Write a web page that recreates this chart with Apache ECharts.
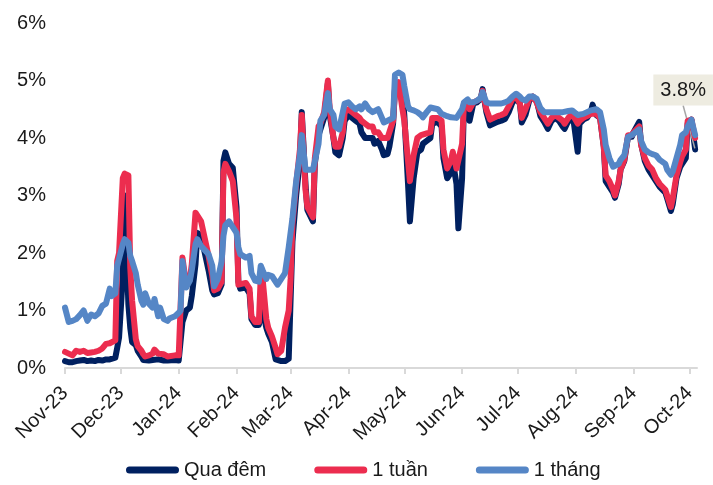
<!DOCTYPE html>
<html>
<head>
<meta charset="utf-8">
<script src="https://cdn.jsdelivr.net/npm/echarts@6/dist/echarts.min.js"></script>
<style>
  html, body { margin: 0; padding: 0; background: #fff; }
  #chart { width: 713px; height: 485px; }
</style>
</head>
<body>
<div id="chart"></div>
<script>
// Interbank rates (%), Nov-2023 to early Oct-2024
var dates = [
  '2023-11-01','2023-11-03','2023-11-05','2023-11-07','2023-11-09','2023-11-11','2023-11-13','2023-11-15','2023-11-17','2023-11-19',
  '2023-11-21','2023-11-23','2023-11-25','2023-11-26','2023-11-28','2023-11-29','2023-11-30','2023-12-02','2023-12-03','2023-12-04',
  '2023-12-05','2023-12-06','2023-12-07','2023-12-09','2023-12-10','2023-12-12','2023-12-13','2023-12-14','2023-12-16','2023-12-18',
  '2023-12-19','2023-12-21','2023-12-22','2023-12-24','2023-12-26','2023-12-27','2023-12-30','2024-01-01','2024-01-02','2024-01-03',
  '2024-01-05','2024-01-07','2024-01-08','2024-01-10','2024-01-11','2024-01-13','2024-01-15','2024-01-17','2024-01-19','2024-01-20',
  '2024-01-22','2024-01-24','2024-01-25','2024-01-26','2024-01-28','2024-01-30','2024-02-01','2024-02-02','2024-02-03','2024-02-06',
  '2024-02-08','2024-02-09','2024-02-11','2024-02-13','2024-02-14','2024-02-15','2024-02-17','2024-02-18','2024-02-20','2024-02-22',
  '2024-02-23','2024-02-25','2024-02-27','2024-02-29','2024-03-01','2024-03-02','2024-03-04','2024-03-06','2024-03-07','2024-03-09',
  '2024-03-10','2024-03-13','2024-03-14','2024-03-16','2024-03-17','2024-03-19','2024-03-21','2024-03-22','2024-03-24','2024-03-25',
  '2024-03-27','2024-03-29','2024-03-30','2024-04-01','2024-04-03','2024-04-05','2024-04-07','2024-04-08','2024-04-10','2024-04-12',
  '2024-04-14','2024-04-15','2024-04-17','2024-04-19','2024-04-20','2024-04-22','2024-04-23','2024-04-25','2024-04-26','2024-04-28',
  '2024-04-30','2024-05-01','2024-05-03','2024-05-04','2024-05-06','2024-05-08','2024-05-10','2024-05-11','2024-05-13','2024-05-15',
  '2024-05-16','2024-05-19','2024-05-21','2024-05-22','2024-05-24','2024-05-26','2024-05-27','2024-05-29','2024-05-30','2024-06-01',
  '2024-06-02','2024-06-04','2024-06-05','2024-06-07','2024-06-09','2024-06-11','2024-06-12','2024-06-14','2024-06-16','2024-06-18',
  '2024-06-20','2024-06-22','2024-06-24','2024-06-26','2024-06-28','2024-06-30','2024-07-02','2024-07-03','2024-07-05','2024-07-07',
  '2024-07-09','2024-07-11','2024-07-13','2024-07-15','2024-07-17','2024-07-19','2024-07-21','2024-07-23','2024-07-25','2024-07-26',
  '2024-07-28','2024-07-30','2024-07-31','2024-08-02','2024-08-03','2024-08-05','2024-08-07','2024-08-09','2024-08-10','2024-08-12',
  '2024-08-14','2024-08-16','2024-08-17','2024-08-19','2024-08-21','2024-08-22','2024-08-24','2024-08-25','2024-08-27','2024-08-29',
  '2024-08-31','2024-09-01','2024-09-04','2024-09-05','2024-09-07','2024-09-09','2024-09-11','2024-09-13','2024-09-15','2024-09-18',
  '2024-09-19','2024-09-21','2024-09-22','2024-09-24','2024-09-26','2024-09-27','2024-09-29','2024-09-30','2024-10-02','2024-10-04'
];

// Qua đêm (overnight)
var overnight = [
  0.12,0.10,0.10,0.12,0.13,0.14,0.12,0.13,0.12,0.14,
  0.13,0.15,0.15,0.16,0.18,0.35,0.53,1.60,3.00,2.00,
  1.10,0.70,0.45,0.40,0.30,0.20,0.14,0.12,0.13,0.14,
  0.13,0.15,0.14,0.13,0.13,0.13,0.14,0.13,0.15,0.80,
  1.00,1.05,1.25,1.80,2.35,2.30,2.00,1.70,1.35,1.28,
  1.30,1.45,3.60,3.75,3.55,3.48,2.80,1.50,1.38,1.40,
  1.30,0.85,0.75,0.75,0.95,1.00,0.70,0.60,0.45,0.15,
  0.12,0.12,0.12,0.16,0.18,2.20,3.00,3.60,4.45,3.20,
  2.75,2.55,3.55,4.05,4.15,4.35,4.95,4.40,4.00,3.75,
  3.70,4.00,4.30,4.40,4.35,4.30,4.25,4.10,4.00,4.00,
  4.00,3.90,3.95,3.80,3.70,3.72,3.85,4.25,4.85,4.90,
  4.80,4.40,3.20,2.55,3.30,3.75,3.80,3.90,3.95,4.00,
  4.25,4.28,4.20,3.65,3.30,3.40,3.60,3.20,2.43,3.30,
  4.60,4.62,4.30,4.60,4.62,4.68,4.85,4.45,4.22,4.25,
  4.28,4.30,4.33,4.45,4.62,4.68,4.60,4.27,4.40,4.65,
  4.72,4.65,4.38,4.28,4.16,4.30,4.35,4.30,4.20,4.16,
  4.30,4.33,4.25,3.76,4.25,4.32,4.35,4.45,4.58,4.40,
  4.35,3.85,3.25,3.15,3.05,2.96,3.20,3.45,3.60,4.02,
  4.02,4.10,4.28,3.90,3.60,3.45,3.35,3.25,3.15,3.05,
  2.95,2.73,2.85,3.30,3.50,3.55,3.65,4.25,4.32,3.80
];

// 1 tuần (one week)
var oneWeek = [
  0.28,0.25,0.22,0.30,0.28,0.30,0.26,0.27,0.28,0.30,
  0.34,0.42,0.43,0.46,0.48,1.86,2.00,3.30,3.38,3.38,
  3.35,1.75,1.17,0.50,0.38,0.30,0.24,0.20,0.22,0.25,
  0.32,0.25,0.22,0.24,0.20,0.22,0.22,0.22,0.25,1.92,
  1.45,1.55,1.80,2.70,2.72,2.55,2.25,1.95,1.60,1.35,
  1.38,1.50,3.40,3.55,3.42,3.25,2.60,1.45,1.45,1.48,
  1.38,0.90,0.80,0.80,1.60,1.55,0.85,0.70,0.55,0.35,
  0.24,0.30,0.70,1.00,1.55,2.50,3.20,3.80,4.40,3.10,
  2.80,2.62,3.65,4.20,4.25,4.45,5.00,4.50,4.00,3.85,
  3.85,4.10,4.45,4.50,4.45,4.40,4.35,4.30,4.25,4.20,
  4.20,4.10,4.10,4.00,3.98,4.00,4.02,4.30,4.85,4.97,
  4.50,4.30,3.60,3.25,3.70,4.00,4.05,4.05,4.08,4.10,
  4.35,4.35,4.30,3.80,3.47,3.60,3.76,3.47,3.50,3.90,
  4.60,4.62,4.50,4.62,4.65,4.68,4.82,4.50,4.32,4.35,
  4.38,4.40,4.43,4.55,4.68,4.72,4.60,4.35,4.50,4.68,
  4.72,4.62,4.45,4.35,4.25,4.35,4.40,4.35,4.30,4.25,
  4.35,4.42,4.40,4.25,4.30,4.35,4.38,4.42,4.45,4.42,
  4.35,3.85,3.35,3.25,3.10,3.00,3.25,3.45,3.62,4.05,
  4.05,4.10,4.20,3.88,3.65,3.52,3.45,3.30,3.20,3.10,
  3.00,2.80,2.95,3.35,3.58,3.68,3.80,4.30,4.32,4.00
];

// 1 tháng (one month)
var oneMonth = [
  1.05,0.80,0.82,0.85,0.92,1.00,0.82,0.93,0.90,0.95,
  1.08,1.12,1.38,1.25,1.30,1.78,1.90,2.15,2.24,2.22,
  2.18,1.95,1.86,1.65,1.45,1.17,1.10,1.30,1.12,1.05,
  1.20,0.90,1.05,0.85,0.82,0.86,0.90,0.96,1.00,1.86,
  1.40,1.52,1.70,2.15,2.24,2.12,2.05,1.98,1.78,1.42,
  1.55,1.85,2.30,2.48,2.55,2.45,2.35,2.10,1.98,1.92,
  1.95,1.65,1.52,1.50,1.78,1.70,1.55,1.62,1.60,1.50,
  1.45,1.55,1.65,2.10,2.10,2.60,3.25,3.70,4.05,3.45,
  3.45,3.45,3.48,3.90,4.30,4.40,4.78,4.50,4.40,4.20,
  4.15,4.45,4.60,4.62,4.55,4.50,4.55,4.50,4.60,4.50,
  4.45,4.45,4.50,4.35,4.27,4.30,4.30,4.35,5.10,5.14,
  5.10,4.90,4.55,4.50,4.48,4.45,4.40,4.36,4.45,4.53,
  4.53,4.50,4.42,4.40,4.38,4.36,4.35,4.35,4.36,4.50,
  4.62,4.67,4.62,4.62,4.65,4.70,4.80,4.62,4.60,4.60,
  4.60,4.60,4.62,4.65,4.72,4.77,4.72,4.68,4.65,4.72,
  4.72,4.68,4.52,4.45,4.45,4.45,4.45,4.45,4.45,4.45,
  4.47,4.48,4.45,4.40,4.38,4.42,4.45,4.48,4.50,4.50,
  4.45,4.15,3.88,3.65,3.50,3.47,3.55,3.62,3.70,4.02,
  4.05,4.08,4.15,3.95,3.80,3.75,3.72,3.70,3.62,3.55,
  3.45,3.36,3.42,3.65,3.88,4.05,4.10,4.20,4.32,4.05
];

// Month ticks and their labels
var monthTicks = [
  '2023-11-01','2023-12-01','2024-01-01','2024-02-01','2024-03-01','2024-04-01',
  '2024-05-01','2024-06-01','2024-07-01','2024-08-01','2024-09-01','2024-10-01'
];
var monthLabels = ['Nov-23','Dec-23','Jan-24','Feb-24','Mar-24','Apr-24','May-24','Jun-24','Jul-24','Aug-24','Sep-24','Oct-24'];
var axisEnd = '2024-10-05';

var seriesNames = ['Qua đêm', '1 tuần', '1 tháng'];
var seriesColors = ['#002060', '#EC2D4F', '#5586C6'];

var FONT = '"Liberation Sans", Arial, sans-serif';
function ts(d) { return Date.parse(d + 'T00:00:00Z'); }
var tickTimes = monthTicks.map(ts);
var labelByTime = {};
tickTimes.forEach(function (t, i) { labelByTime[t] = monthLabels[i]; });

function toPairs(values) {
  return values.map(function (v, i) { return [ts(dates[i]), v]; });
}

// Overnight series carries the callout on its latest value
var lastIdx = dates.length - 1;
var overnightData = toPairs(overnight);
overnightData[lastIdx] = {
  value: overnightData[lastIdx],
  symbol: 'circle',
  symbolSize: 2,
  label: {
    show: true,
    position: 'top',
    formatter: function (p) { return p.value[1].toFixed(1) + '%'; },
    fontFamily: FONT,
    fontSize: 20,
    color: '#1a1a1a',
    backgroundColor: '#EEECE1',
    padding: [6, 7, 5, 7]
  },
  labelLine: { show: true, lineStyle: { color: '#a6a6a6', width: 1.5 } }
};

function lineSeries(name, data, color, extra) {
  var s = {
    name: name,
    type: 'line',
    data: data,
    showSymbol: true,
    symbol: 'none',
    color: color,
    lineStyle: { width: 6, color: color, cap: 'round', join: 'round' },
    emphasis: { disabled: true },
    animation: false
  };
  if (extra) { for (var k in extra) s[k] = extra[k]; }
  return s;
}

var chart = echarts.init(document.getElementById('chart'), null, { renderer: 'canvas' });
chart.setOption({
  backgroundColor: '#ffffff',
  animation: false,
  grid: { left: 65, right: 16, top: 23, bottom: 117, containLabel: false },
  legend: {
    left: 121,
    top: 455,
    itemWidth: 53,
    itemHeight: 7,
    itemGap: 48,
    textStyle: { fontFamily: FONT, fontSize: 20, color: '#1a1a1a' },
    data: seriesNames.map(function (n) {
      return { name: n, icon: 'path://M3.5,0 H49.5 A3.5,3.5 0 0 1 49.5,7 H3.5 A3.5,3.5 0 0 1 3.5,0 Z' };
    })
  },
  xAxis: {
    type: 'value',
    min: tickTimes[0],
    max: ts(axisEnd),
    axisLine: { show: true, lineStyle: { color: '#d9d9d9', width: 2 } },
    axisTick: { show: true, length: 6, lineStyle: { color: '#d9d9d9', width: 2 }, customValues: tickTimes },
    axisLabel: {
      customValues: tickTimes,
      rotate: 45,
      margin: 22,
      fontFamily: FONT,
      fontSize: 20,
      color: '#1a1a1a',
      formatter: function (v) { return labelByTime[v] || ''; }
    },
    splitLine: { show: false }
  },
  yAxis: {
    type: 'value',
    min: 0,
    max: 6,
    interval: 1,
    axisLine: { show: false },
    axisTick: { show: false },
    splitLine: { show: false },
    axisLabel: {
      margin: 19,
      fontFamily: FONT,
      fontSize: 20,
      color: '#1a1a1a',
      formatter: '{value}%'
    }
  },
  series: [
    lineSeries(seriesNames[0], overnightData, seriesColors[0], {
      z: 2,
      labelLayout: function (p) {
        if (p.dataIndex !== lastIdx) return {};
        return { dx: -12, dy: -38 };
      }
    }),
    lineSeries(seriesNames[1], toPairs(oneWeek), seriesColors[1], { z: 3 }),
    lineSeries(seriesNames[2], toPairs(oneMonth), seriesColors[2], { z: 4 })
  ]
});
</script>
</body>
</html>
